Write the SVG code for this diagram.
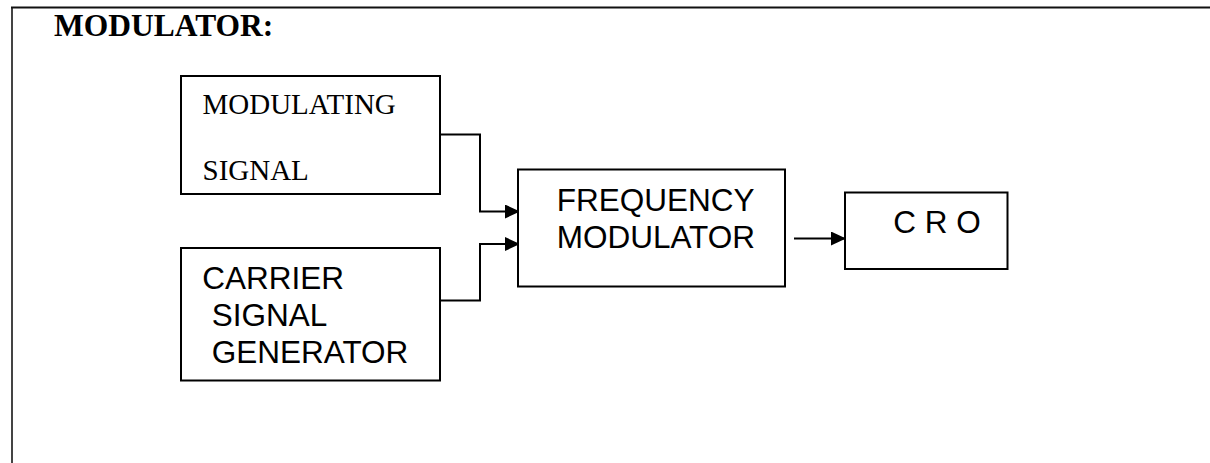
<svg xmlns="http://www.w3.org/2000/svg" width="1210" height="463" viewBox="0 0 1210 463">
<style>
.box{fill:#fff;stroke:#000;stroke-width:2}
.ser{font-family:"Liberation Serif","Times New Roman",serif;font-size:29px;fill:#000}
.san{font-family:"Liberation Sans",Arial,sans-serif;font-size:31.5px;fill:#000}
.head{font-family:"Liberation Serif","Times New Roman",serif;font-size:31.5px;font-weight:bold;fill:#000}
.wire{fill:none;stroke:#000;stroke-width:2}
</style>
<defs>
<marker id="arr" markerWidth="15" markerHeight="14" refX="14" refY="7" orient="auto" markerUnits="userSpaceOnUse">
<path d="M0,0 L15,7 L0,14 Z" fill="#000"/>
</marker>
</defs>
<rect x="0" y="0" width="1210" height="463" fill="#fff"/>
<g id="frame">
<path d="M12,463 L12,7.5" fill="none" stroke="#444" stroke-width="2"/>
<path d="M11,7.5 L1210,7.5" fill="none" stroke="#111" stroke-width="2"/>
<text class="head" x="54" y="36">MODULATOR:</text>
</g>
<g id="connectors">
<path class="wire" d="M440,134.5 L480,134.5 L480,211.5 L519,211.5" marker-end="url(#arr)"/>
<path class="wire" d="M440,300.5 L480,300.5 L480,244 L519,244" marker-end="url(#arr)"/>
<path class="wire" d="M794,238.5 L845,238.5" marker-end="url(#arr)"/>
</g>
<g id="modulating">
<rect class="box" x="181" y="76" width="259" height="118"/>
<text class="ser" x="202.5" y="113.5">MODULATING</text>
<text class="ser" x="202.5" y="180">SIGNAL</text>
</g>
<g id="carrier">
<rect class="box" x="181" y="248" width="259" height="132.5"/>
<text class="san" x="202.3" y="289.3">CARRIER</text>
<text class="san" x="211.7" y="326">SIGNAL</text>
<text class="san" x="211.7" y="363.3">GENERATOR</text>
</g>
<g id="fm">
<rect class="box" x="518" y="169.5" width="267" height="117"/>
<text class="san" x="556.7" y="210.7">FREQUENCY</text>
<text class="san" x="556.7" y="247.7">MODULATOR</text>
</g>
<g id="cro">
<rect class="box" x="845" y="192.5" width="162.5" height="76.5"/>
<text class="san" x="893.3" y="233.3">C R O</text>
</g>
</svg>
